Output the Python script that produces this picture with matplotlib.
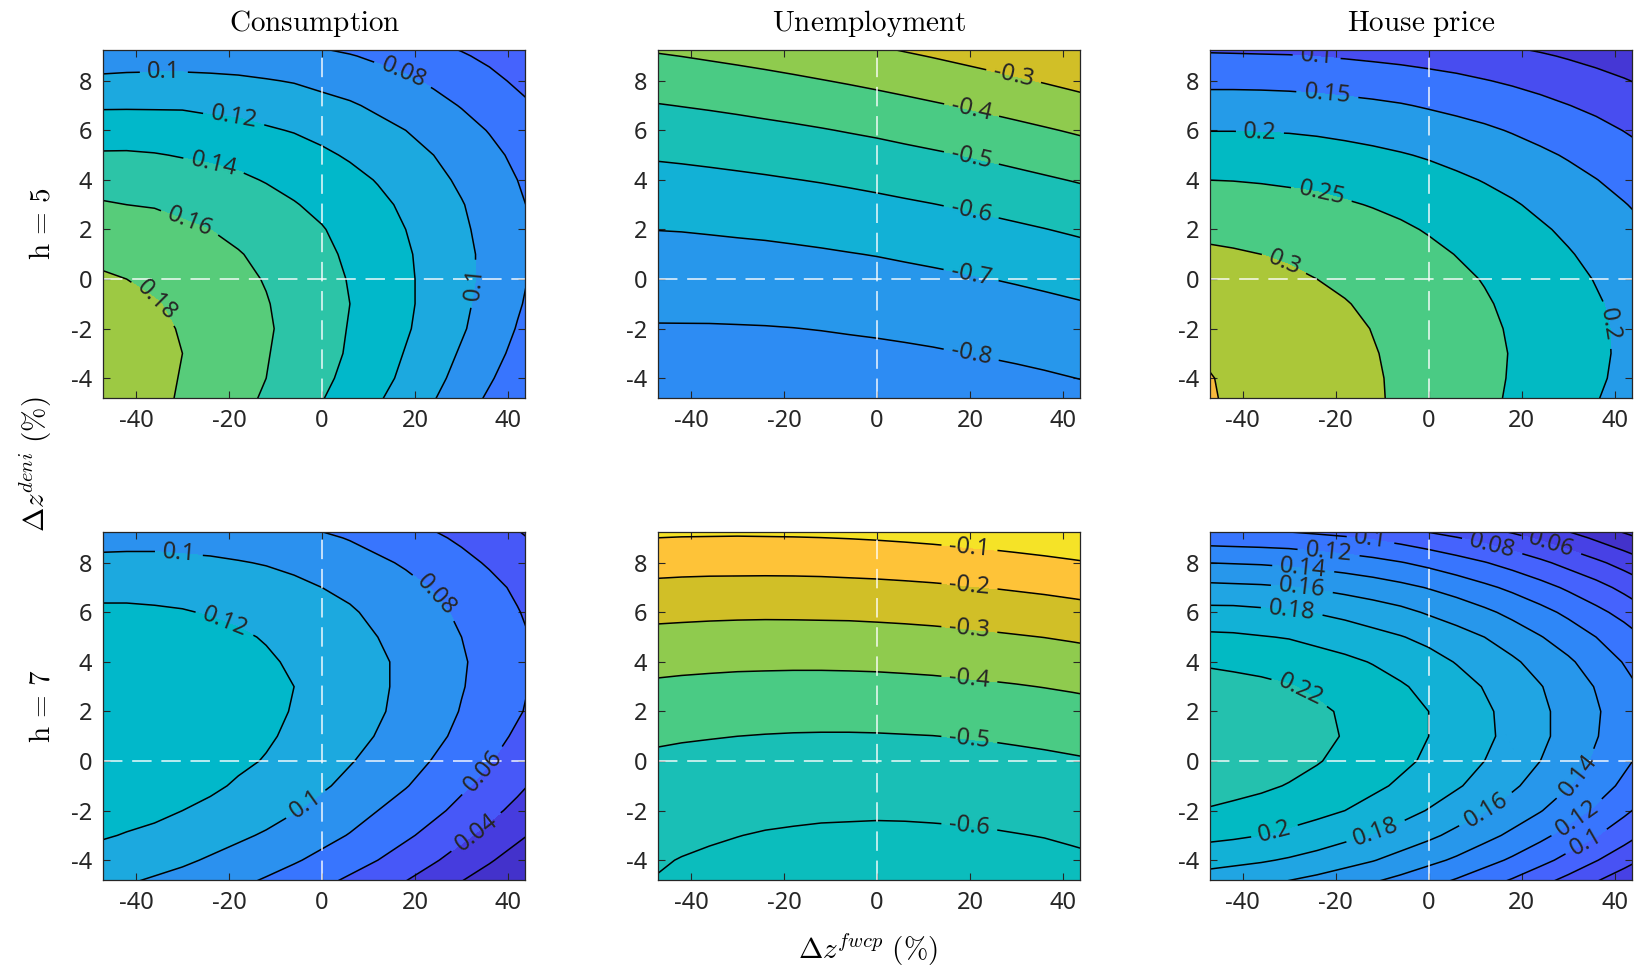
import numpy as np
import matplotlib
matplotlib.use('Agg')
import matplotlib.pyplot as plt

# grid: change in fwcp (x, %) and change in deni (y, %)
fwcp = np.arange(-48, 48.1, 6.0)
deni = np.arange(-5, 10.1, 1.0)

# responses, x1000, rows = deni from -5 to 10, cols = fwcp from -48 to 48
cons_h5 = np.array([
    [194, 189, 184, 178, 172, 165, 157, 149, 140, 131, 121, 111, 100, 88, 76, 63, 50],
    [194, 190, 185, 179, 174, 167, 160, 152, 144, 135, 126, 116, 105, 94, 82, 70, 57],
    [193, 189, 185, 180, 174, 168, 161, 154, 146, 138, 129, 119, 109, 98, 87, 75, 62],
    [190, 187, 183, 179, 174, 168, 162, 155, 147, 139, 131, 122, 112, 102, 91, 79, 67],
    [187, 184, 181, 177, 172, 167, 161, 154, 147, 140, 132, 123, 114, 104, 93, 82, 71],
    [182, 180, 177, 173, 169, 164, 159, 153, 146, 139, 131, 123, 114, 105, 95, 84, 73],
    [177, 175, 172, 169, 165, 161, 156, 150, 144, 137, 130, 122, 114, 105, 95, 85, 74],
    [170, 168, 166, 163, 160, 156, 151, 146, 141, 134, 127, 120, 112, 103, 94, 84, 74],
    [162, 160, 159, 156, 153, 150, 146, 141, 136, 130, 124, 117, 109, 101, 92, 83, 73],
    [152, 152, 150, 148, 146, 143, 139, 135, 130, 125, 119, 112, 105, 97, 89, 80, 71],
    [142, 142, 141, 139, 137, 135, 131, 128, 123, 118, 113, 107, 100, 93, 85, 76, 67],
    [130, 131, 130, 129, 127, 125, 122, 119, 115, 111, 105, 100, 93, 87, 79, 71, 62],
    [118, 118, 118, 118, 116, 115, 112, 109, 106, 102, 97, 92, 86, 79, 72, 65, 57],
    [104, 105, 105, 105, 104, 103, 101, 99, 95, 92, 87, 83, 77, 71, 65, 57, 50],
    [89, 90, 91, 91, 91, 90, 89, 87, 84, 81, 77, 72, 67, 62, 56, 49, 42],
    [73, 74, 76, 76, 77, 76, 75, 73, 71, 68, 65, 61, 56, 51, 45, 39, 32]]) / 1000

unemp_h5 = np.array([
    [-854, -857, -859, -861, -862, -862, -862, -860, -858, -856, -853, -849, -844, -839, -833, -827, -820],
    [-841, -843, -844, -845, -845, -844, -843, -841, -838, -835, -831, -827, -821, -815, -809, -801, -793],
    [-824, -825, -826, -826, -825, -824, -822, -819, -816, -812, -807, -801, -795, -789, -781, -773, -764],
    [-805, -805, -805, -804, -803, -801, -798, -794, -790, -785, -780, -774, -767, -759, -751, -742, -733],
    [-783, -782, -781, -780, -778, -775, -771, -767, -762, -756, -750, -743, -735, -727, -718, -708, -698],
    [-758, -757, -755, -752, -749, -746, -741, -736, -730, -724, -717, -709, -701, -692, -682, -672, -660],
    [-730, -728, -726, -722, -719, -714, -709, -703, -697, -689, -681, -673, -664, -654, -643, -632, -620],
    [-699, -697, -693, -689, -685, -680, -674, -667, -660, -652, -643, -634, -624, -613, -602, -590, -577],
    [-666, -663, -659, -654, -648, -642, -636, -628, -620, -611, -602, -592, -581, -570, -558, -545, -531],
    [-630, -626, -621, -615, -609, -602, -595, -587, -578, -568, -558, -547, -536, -523, -510, -497, -483],
    [-591, -586, -580, -574, -567, -559, -551, -542, -533, -522, -511, -500, -487, -474, -461, -446, -431],
    [-549, -543, -537, -530, -522, -514, -505, -495, -485, -473, -462, -449, -436, -422, -408, -393, -377],
    [-505, -498, -491, -483, -474, -465, -455, -445, -434, -422, -409, -396, -382, -368, -352, -337, -320],
    [-457, -450, -442, -433, -424, -414, -403, -392, -380, -367, -354, -340, -325, -310, -294, -277, -260],
    [-407, -399, -390, -381, -371, -360, -349, -336, -324, -310, -296, -281, -266, -250, -233, -216, -198],
    [-354, -345, -336, -325, -315, -303, -291, -278, -265, -250, -235, -220, -204, -187, -169, -151, -132]]) / 1000

house_h5 = np.array([
    [353, 347, 340, 332, 324, 314, 305, 294, 283, 271, 258, 245, 231, 217, 201, 185, 169],
    [352, 346, 339, 331, 323, 314, 304, 294, 283, 272, 260, 247, 234, 220, 206, 191, 175],
    [348, 342, 335, 328, 320, 312, 302, 293, 282, 271, 260, 248, 235, 222, 208, 193, 178],
    [342, 336, 330, 323, 316, 308, 299, 290, 280, 269, 258, 246, 234, 221, 207, 193, 178],
    [333, 328, 322, 316, 309, 302, 293, 284, 275, 265, 254, 242, 230, 217, 204, 190, 175],
    [321, 317, 312, 307, 300, 293, 286, 277, 268, 258, 248, 236, 224, 212, 198, 184, 169],
    [307, 304, 300, 295, 289, 283, 276, 268, 259, 249, 239, 228, 216, 203, 190, 176, 161],
    [291, 288, 285, 281, 276, 270, 263, 256, 247, 238, 228, 217, 205, 193, 179, 165, 150],
    [272, 270, 267, 264, 260, 254, 248, 241, 233, 224, 214, 204, 192, 180, 166, 152, 137],
    [250, 249, 247, 244, 241, 236, 230, 224, 216, 207, 198, 188, 176, 164, 151, 137, 122],
    [226, 226, 224, 222, 219, 214, 209, 203, 196, 188, 179, 169, 158, 146, 133, 119, 104],
    [199, 199, 198, 197, 194, 190, 185, 179, 173, 165, 157, 147, 136, 125, 113, 99, 85],
    [170, 170, 170, 168, 166, 162, 158, 153, 146, 139, 131, 122, 112, 101, 90, 77, 63],
    [139, 139, 138, 137, 134, 131, 127, 122, 116, 110, 102, 94, 85, 75, 64, 53, 40],
    [105, 104, 103, 102, 99, 96, 92, 88, 83, 77, 70, 63, 55, 46, 37, 26, 15],
    [68, 67, 65, 63, 61, 58, 54, 50, 45, 40, 34, 28, 21, 14, 6, -2, -11]]) / 1000

cons_h7 = np.array([
    [103, 100, 96, 92, 87, 82, 76, 69, 62, 55, 46, 38, 28, 18, 8, -3, -15],
    [113, 110, 107, 103, 98, 93, 88, 82, 75, 67, 60, 51, 42, 32, 22, 11, 0],
    [122, 119, 116, 112, 108, 103, 98, 92, 86, 79, 71, 63, 54, 44, 34, 24, 13],
    [129, 126, 124, 120, 116, 112, 107, 101, 95, 88, 80, 72, 64, 55, 45, 35, 24],
    [134, 132, 129, 126, 123, 118, 113, 108, 102, 96, 88, 81, 72, 63, 54, 44, 33],
    [137, 136, 133, 131, 127, 123, 119, 114, 108, 101, 95, 87, 79, 71, 61, 52, 41],
    [139, 138, 136, 133, 130, 126, 122, 117, 112, 106, 99, 92, 84, 76, 67, 57, 47],
    [139, 138, 137, 134, 131, 128, 124, 119, 114, 108, 102, 95, 88, 79, 71, 62, 52],
    [138, 137, 136, 134, 131, 128, 124, 120, 115, 109, 103, 96, 89, 81, 73, 64, 54],
    [135, 134, 133, 131, 129, 126, 122, 118, 114, 108, 103, 96, 89, 82, 73, 65, 55],
    [130, 129, 128, 127, 125, 122, 119, 115, 111, 106, 100, 94, 87, 80, 72, 64, 55],
    [123, 123, 122, 121, 119, 117, 114, 110, 106, 102, 96, 90, 84, 77, 69, 61, 52],
    [115, 115, 115, 114, 112, 110, 107, 104, 100, 96, 91, 85, 79, 72, 65, 57, 48],
    [105, 105, 105, 104, 103, 101, 99, 96, 92, 88, 83, 78, 72, 65, 58, 51, 43],
    [93, 94, 94, 93, 92, 91, 89, 86, 83, 79, 74, 69, 63, 57, 50, 43, 35],
    [80, 81, 81, 81, 80, 79, 77, 74, 71, 68, 63, 59, 53, 47, 41, 34, 26]]) / 1000

unemp_h7 = np.array([
    [-603, -611, -618, -624, -630, -634, -637, -640, -641, -642, -642, -640, -638, -635, -631, -627, -621],
    [-594, -602, -608, -614, -619, -623, -626, -628, -629, -629, -628, -627, -624, -621, -617, -611, -605],
    [-581, -588, -594, -599, -604, -607, -610, -611, -612, -612, -611, -609, -606, -602, -598, -592, -585],
    [-563, -570, -576, -581, -585, -588, -590, -591, -592, -591, -589, -587, -584, -580, -575, -569, -562],
    [-542, -548, -553, -558, -561, -564, -566, -567, -567, -566, -564, -561, -558, -553, -547, -541, -534],
    [-516, -522, -527, -531, -534, -536, -538, -538, -538, -537, -534, -531, -527, -522, -516, -509, -502],
    [-486, -492, -496, -500, -503, -505, -506, -506, -505, -503, -501, -497, -493, -487, -481, -474, -466],
    [-452, -457, -462, -465, -467, -469, -469, -469, -468, -466, -463, -459, -454, -448, -441, -434, -425],
    [-414, -419, -423, -426, -428, -429, -429, -428, -427, -424, -421, -416, -411, -405, -398, -390, -381],
    [-372, -377, -380, -383, -384, -385, -385, -384, -382, -379, -375, -370, -364, -358, -350, -342, -333],
    [-326, -330, -333, -335, -336, -337, -336, -335, -332, -329, -325, -319, -313, -306, -299, -290, -280],
    [-276, -279, -282, -284, -285, -284, -283, -282, -279, -275, -270, -265, -258, -251, -243, -234, -224],
    [-221, -225, -227, -228, -229, -228, -227, -224, -221, -217, -212, -206, -199, -191, -183, -173, -163],
    [-163, -166, -168, -168, -168, -168, -166, -163, -160, -155, -150, -143, -136, -128, -119, -109, -98],
    [-100, -103, -104, -105, -104, -103, -101, -98, -94, -89, -83, -76, -69, -60, -51, -40, -29],
    [-34, -36, -37, -37, -36, -34, -32, -28, -24, -19, -12, -5, 3, 12, 22, 32, 44]]) / 1000

house_h7 = np.array([
    [167, 164, 161, 156, 151, 145, 138, 131, 123, 114, 104, 94, 82, 70, 57, 44, 30],
    [188, 185, 182, 178, 173, 167, 161, 153, 145, 137, 127, 117, 106, 94, 81, 68, 54],
    [205, 203, 200, 196, 191, 185, 179, 172, 164, 155, 146, 136, 125, 113, 101, 88, 74],
    [219, 216, 213, 209, 205, 200, 193, 187, 179, 170, 161, 151, 141, 129, 117, 104, 90],
    [228, 226, 223, 219, 215, 210, 204, 197, 190, 182, 173, 163, 152, 141, 129, 116, 102],
    [234, 232, 229, 226, 221, 216, 211, 204, 197, 189, 180, 170, 160, 149, 137, 124, 111],
    [235, 234, 231, 228, 224, 219, 214, 207, 200, 192, 184, 174, 164, 153, 141, 129, 116],
    [233, 232, 229, 226, 223, 218, 213, 206, 200, 192, 183, 174, 164, 153, 142, 130, 117],
    [227, 226, 224, 221, 217, 213, 208, 202, 195, 188, 179, 170, 161, 150, 139, 126, 114],
    [218, 216, 214, 212, 208, 204, 199, 193, 187, 179, 171, 163, 153, 143, 131, 119, 107],
    [204, 203, 201, 199, 195, 191, 186, 181, 175, 167, 160, 151, 141, 131, 120, 109, 96],
    [186, 186, 184, 182, 179, 175, 170, 165, 158, 152, 144, 135, 126, 116, 105, 94, 81],
    [165, 164, 163, 161, 158, 154, 150, 145, 139, 132, 124, 116, 107, 97, 87, 75, 63],
    [140, 139, 138, 136, 133, 130, 126, 121, 115, 108, 101, 93, 84, 74, 64, 53, 41],
    [111, 110, 109, 108, 105, 102, 98, 93, 87, 81, 74, 66, 57, 48, 37, 26, 15],
    [78, 78, 77, 75, 73, 70, 66, 61, 56, 49, 42, 35, 26, 17, 7, -4, -15]]) / 1000

titles = [r'$\mathrm{Consumption}$', r'$\mathrm{Unemployment}$', r'$\mathrm{House\ price}$']
row_labels = [r'$\mathrm{h}\,=\,5$', r'$\mathrm{h}\,=\,7$']

panels = {
    (0, 0): cons_h5, (0, 1): unemp_h5, (0, 2): house_h5,
    (1, 0): cons_h7, (1, 1): unemp_h7, (1, 2): house_h7,
}
levels = {
    (0, 0): [0.06, 0.08, 0.10, 0.12, 0.14, 0.16, 0.18],
    (0, 1): [-0.8, -0.7, -0.6, -0.5, -0.4, -0.3],
    (0, 2): [0.05, 0.10, 0.15, 0.20, 0.25, 0.30, 0.35],
    (1, 0): [0.02, 0.04, 0.06, 0.08, 0.10, 0.12],
    (1, 1): [-0.6, -0.5, -0.4, -0.3, -0.2, -0.1],
    (1, 2): [0.02, 0.04, 0.06, 0.08, 0.10, 0.12, 0.14, 0.16, 0.18, 0.20, 0.22],
}

# parula(64)
PARULA = [
    [0.2422, 0.1504, 0.6603], [0.2504, 0.1650, 0.7076], [0.2578, 0.1818, 0.7511], [0.2647, 0.1978, 0.7952],
    [0.2706, 0.2147, 0.8364], [0.2751, 0.2342, 0.8710], [0.2783, 0.2559, 0.8991], [0.2803, 0.2782, 0.9221],
    [0.2813, 0.3006, 0.9414], [0.2810, 0.3228, 0.9579], [0.2795, 0.3447, 0.9717], [0.2760, 0.3667, 0.9829],
    [0.2699, 0.3892, 0.9906], [0.2602, 0.4123, 0.9952], [0.2440, 0.4358, 0.9988], [0.2206, 0.4603, 0.9973],
    [0.1963, 0.4847, 0.9892], [0.1834, 0.5074, 0.9798], [0.1786, 0.5289, 0.9682], [0.1764, 0.5499, 0.9520],
    [0.1687, 0.5703, 0.9359], [0.1540, 0.5902, 0.9218], [0.1460, 0.6091, 0.9079], [0.1380, 0.6276, 0.8973],
    [0.1248, 0.6459, 0.8883], [0.1113, 0.6635, 0.8763], [0.0952, 0.6798, 0.8598], [0.0689, 0.6948, 0.8394],
    [0.0297, 0.7082, 0.8163], [0.0036, 0.7203, 0.7917], [0.0067, 0.7312, 0.7660], [0.0433, 0.7411, 0.7394],
    [0.0964, 0.7500, 0.7120], [0.1408, 0.7584, 0.6842], [0.1717, 0.7670, 0.6554], [0.1938, 0.7758, 0.6251],
    [0.2161, 0.7843, 0.5923], [0.2470, 0.7918, 0.5567], [0.2906, 0.7973, 0.5188], [0.3406, 0.8008, 0.4789],
    [0.3909, 0.8029, 0.4354], [0.4456, 0.8024, 0.3909], [0.5044, 0.7993, 0.3480], [0.5616, 0.7942, 0.3045],
    [0.6174, 0.7876, 0.2612], [0.6720, 0.7793, 0.2227], [0.7242, 0.7698, 0.1910], [0.7738, 0.7598, 0.1646],
    [0.8203, 0.7498, 0.1535], [0.8634, 0.7406, 0.1596], [0.9035, 0.7330, 0.1774], [0.9393, 0.7288, 0.2100],
    [0.9728, 0.7298, 0.2394], [0.9956, 0.7434, 0.2371], [0.9970, 0.7659, 0.2199], [0.9952, 0.7893, 0.2028],
    [0.9892, 0.8136, 0.1885], [0.9786, 0.8386, 0.1766], [0.9676, 0.8639, 0.1643], [0.9610, 0.8890, 0.1537],
    [0.9597, 0.9135, 0.1423], [0.9628, 0.9373, 0.1265], [0.9691, 0.9606, 0.1064], [0.9769, 0.9839, 0.0805]]

# colour limits shared by each column
clims = [(0.0, 0.257), (-1.196, -0.029), (0.0, 0.42)]

# where the inline labels sit (data coords)
label_pos = {
    (0, 0): [(-34, 8.43), (-18.9, 6.55), (-23.2, 4.66), (-28.2, 2.38), (-36.1, -0.98), (16.9, 8.02), (32, -0.17)],
    (0, 1): [(29.1, 7.96), (20.1, 6.61), (20.1, 4.73), (20.1, 2.58), (20.1, 0.03), (20.1, -3.2)],
    (0, 2): [(-24.1, 8.9), (-21.9, 7.22), (-36.3, 5.74), (-23.4, 3.19), (-31.3, 0.5), (37.2, -1.92)],
    (1, 0): [(-30.8, 8.29), (-21.1, 5.47), (23.7, 6.55), (-2.8, -1.92), (34.8, -0.44), (33.4, -2.93)],
    (1, 1): [(19.8, 8.43), (19.8, 6.88), (19.8, 5.2), (19.8, 3.19), (19.8, 0.77), (19.8, -2.73)],
    (1, 2): [(-12.6, 8.76), (-21.6, 8.23), (-27, 7.69), (-27.3, 6.88), (-29.5, 5.94), (-28, 2.72),
             (-33, -2.93), (-11.2, -2.93), (12.8, -2.12), (32.5, -0.64), (32.5, -2.46), (34.7, -3.53),
             (13.5, 8.56), (26.1, 8.56)],
}

plt.rcParams['font.family'] = ['Noto Sans', 'DejaVu Sans']
plt.rcParams['mathtext.fontset'] = 'cm'
plt.rcParams['axes.unicode_minus'] = False
plt.rcParams['lines.scale_dashes'] = False

XLIM = (-47.0, 43.7)
YLIM = (-4.8, 9.24)
lefts = [0.0631, 0.4019, 0.7387]
bottoms = [0.5888, 0.0909]

X, Y = np.meshgrid(fwcp, deni)
inside = (X >= XLIM[0]) & (X <= XLIM[1]) & (Y >= YLIM[0]) & (Y <= YLIM[1])

fig = plt.figure(figsize=(16.38, 9.68), dpi=100)

for (r, c), z in panels.items():
    ax = fig.add_axes([lefts[c], bottoms[r], 0.2576, 0.3595])
    lv = np.array(levels[(r, c)])
    cmin, cmax = clims[c]
    # matlab style: each band takes the colour of its lower level, the lowest band the data minimum
    cols = []
    for v in [z[inside].min()] + list(lv):
        i = int(np.clip(round((v - cmin) / (cmax - cmin) * 63), 0, 63))
        cols.append(PARULA[i])
    bounds = np.concatenate([[z.min() - 1], lv, [z.max() + 1]])
    ax.contourf(X, Y, z, levels=bounds, colors=cols)
    cs = ax.contour(X, Y, z, levels=lv, colors='k', linewidths=1.1, linestyles='solid')
    ax.clabel(cs, fmt='%g', manual=label_pos[(r, c)], inline=True, inline_spacing=6,
              fontsize=17, colors='#262626')
    ax.axvline(0, color='white', lw=1.2, alpha=0.85, dashes=(14, 7))
    ax.axhline(0, color='white', lw=1.2, alpha=0.85, dashes=(14, 7))
    ax.set_xlim(XLIM)
    ax.set_ylim(YLIM)
    ax.set_xticks([-40, -20, 0, 20, 40])
    ax.set_yticks([-4, -2, 0, 2, 4, 6, 8])
    ax.tick_params(direction='in', length=5, width=0.8, top=True, right=True,
                   labelsize=17, colors='#262626', pad=8)
    for s in ax.spines.values():
        s.set_color('#262626')
        s.set_linewidth(0.9)
    if r == 0:
        ax.set_title(titles[c], fontsize=21, pad=14)

fig.text(0.0256, 0.7686, row_labels[0], rotation=90, fontsize=21, ha='center', va='center')
fig.text(0.0256, 0.2707, row_labels[1], rotation=90, fontsize=21, ha='center', va='center')
fig.text(0.0220, 0.52, r'$\Delta z^{deni}\ (\%)$', rotation=90, fontsize=21, ha='center', va='center')
fig.text(0.530, 0.0186, r'$\Delta z^{fwcp}\ (\%)$', fontsize=21, ha='center', va='center')

fig.savefig('out.png', dpi=100)
